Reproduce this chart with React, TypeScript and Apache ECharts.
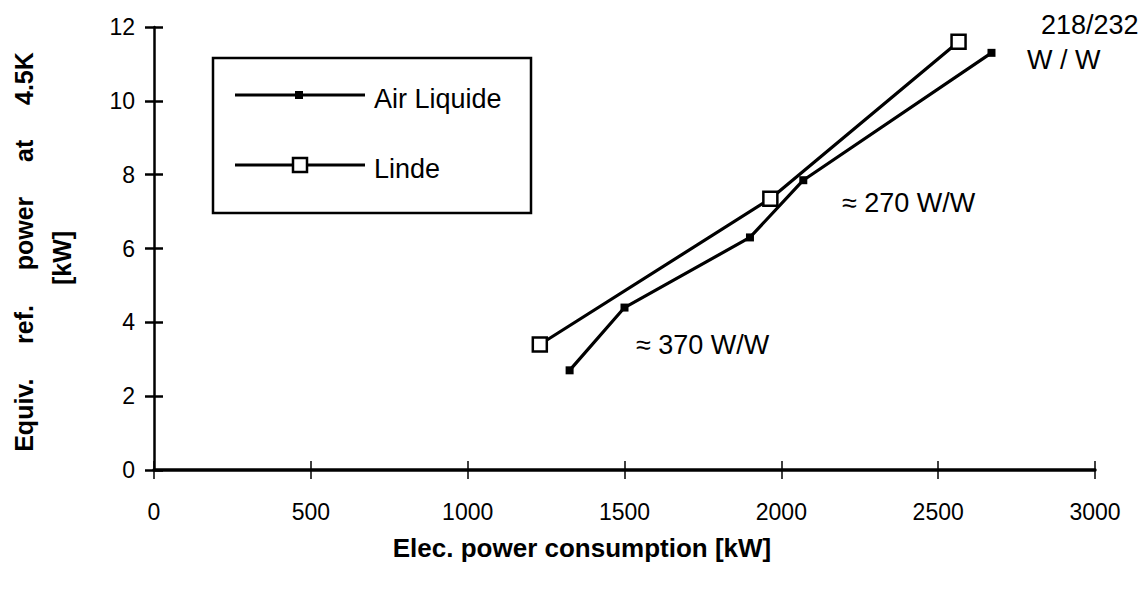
import React, { useEffect, useRef } from "react";
import * as echarts from "echarts";

const xTicks = [0, 500, 1000, 1500, 2000, 2500, 3000];
const yTicks = [0, 2, 4, 6, 8, 10, 12];
const seriesNames = ["Air Liquide", "Linde"];
const airLiquideX = [1325, 1500, 1900, 2070, 2670];
const airLiquideY = [2.7, 4.4, 6.3, 7.85, 11.3];
const lindeX = [1230, 1965, 2565];
const lindeY = [3.4, 7.35, 11.6];
const annotationTexts = ["≈ 370 W/W", "≈ 270 W/W", "218/232", "W / W"];
const xTitle = "Elec. power consumption [kW]";
const yTitleLines = ["Equiv.     ref.     power     at     4.5K", "[kW]"];

const FONT = "'Liberation Sans', Arial, Helvetica, sans-serif";

function txt(text: string, x: number, y: number, size: number, opts: any = {}) {
  return {
    type: "text",
    x,
    y,
    rotation: opts.rotation || 0,
    silent: true,
    style: {
      text,
      fill: "#000",
      fontSize: size,
      fontWeight: opts.bold ? "bold" : "normal",
      fontFamily: FONT,
      textAlign: opts.align || "left",
      textVerticalAlign: "middle",
      align: opts.align || "left",
      verticalAlign: "middle",
    },
  };
}

export default function App() {
  const ref = useRef<HTMLDivElement>(null);
  useEffect(() => {
    if (!ref.current) return;
    const chart = echarts.init(ref.current, null, { renderer: "svg" });
    const xMin = xTicks[0];
    const xMax = xTicks[xTicks.length - 1];
    const xInt = xTicks[1] - xTicks[0];
    const yMin = yTicks[0];
    const yMax = yTicks[yTicks.length - 1];
    const yInt = yTicks[1] - yTicks[0];
    const tickStyle = { color: "#000", width: 1.5 };
    const option: any = {
      animation: false,
      backgroundColor: "#fff",
      grid: { left: 154, right: 52, top: 27, bottom: 120, containLabel: false },
      xAxis: [
        {
          type: "value",
          position: "bottom",
          min: xMin,
          max: xMax,
          interval: xInt,
          axisLine: { show: true, onZero: false, lineStyle: { color: "#000", width: 3.5 } },
          axisTick: { show: true, length: 9, lineStyle: tickStyle },
          axisLabel: {
            margin: 30,
            color: "#000",
            fontSize: 23,
            fontFamily: FONT,
            formatter: (v: number) => String(v),
          },
          splitLine: { show: false },
        },
        {
          type: "value",
          position: "bottom",
          min: xMin,
          max: xMax,
          interval: xInt,
          axisLine: { show: false, onZero: false },
          axisTick: { show: true, inside: true, length: 9, lineStyle: tickStyle },
          axisLabel: { show: false },
          splitLine: { show: false },
        },
      ],
      yAxis: [
        {
          type: "value",
          position: "left",
          min: yMin,
          max: yMax,
          interval: yInt,
          axisLine: { show: true, onZero: false, lineStyle: { color: "#000", width: 2.5 } },
          axisTick: { show: true, length: 9, lineStyle: { color: "#000", width: 2.5 } },
          axisLabel: {
            margin: 19,
            color: "#000",
            fontSize: 23,
            fontFamily: FONT,
            formatter: (v: number) => String(v),
          },
          splitLine: { show: false },
        },
        {
          type: "value",
          position: "left",
          min: yMin,
          max: yMax,
          interval: yInt,
          axisLine: { show: false, onZero: false },
          axisTick: { show: true, inside: true, length: 9, lineStyle: { color: "#000", width: 2.5 } },
          axisLabel: { show: false },
          splitLine: { show: false },
        },
      ],
      series: [
        {
          name: seriesNames[0],
          type: "line",
          xAxisIndex: 0,
          yAxisIndex: 0,
          data: airLiquideX.map((x, i) => [x, airLiquideY[i]]),
          symbol: "rect",
          symbolSize: 8,
          itemStyle: { color: "#000" },
          lineStyle: { color: "#000", width: 3.2 },
          z: 3,
        },
        {
          name: seriesNames[1],
          type: "line",
          xAxisIndex: 0,
          yAxisIndex: 0,
          data: lindeX.map((x, i) => [x, lindeY[i]]),
          symbol: "rect",
          symbolSize: 14,
          itemStyle: { color: "#fff", borderColor: "#000", borderWidth: 2.5 },
          lineStyle: { color: "#000", width: 3.2 },
          z: 4,
        },
      ],
      graphic: [
        {
          type: "rect",
          silent: true,
          shape: { x: 213, y: 58, width: 318, height: 155 },
          style: { fill: "#fff", stroke: "#000", lineWidth: 2.5 },
          z: 10,
        },
        {
          type: "line",
          silent: true,
          shape: { x1: 235, y1: 95, x2: 365, y2: 95 },
          style: { stroke: "#000", lineWidth: 3 },
          z: 11,
        },
        {
          type: "rect",
          silent: true,
          shape: { x: 295, y: 91, width: 8, height: 8 },
          style: { fill: "#000" },
          z: 12,
        },
        {
          type: "line",
          silent: true,
          shape: { x1: 235, y1: 165, x2: 365, y2: 165 },
          style: { stroke: "#000", lineWidth: 3 },
          z: 11,
        },
        {
          type: "rect",
          silent: true,
          shape: { x: 293, y: 158, width: 14, height: 14 },
          style: { fill: "#fff", stroke: "#000", lineWidth: 2.5 },
          z: 12,
        },
        { ...txt(seriesNames[0], 374, 99, 27), z: 12 },
        { ...txt(seriesNames[1], 374, 169, 27), z: 12 },
        txt(annotationTexts[0], 636, 345, 27),
        txt(annotationTexts[1], 842, 203, 27),
        txt(annotationTexts[2], 1041, 25, 27),
        txt(annotationTexts[3], 1027, 60, 27),
        txt(xTitle, 582, 548, 26, { bold: true, align: "center" }),
        txt(yTitleLines[0], 24, 252, 25, { bold: true, align: "center", rotation: Math.PI / 2 }),
        txt(yTitleLines[1], 62, 258, 25, { bold: true, align: "center", rotation: Math.PI / 2 }),
      ],
    };
    chart.setOption(option);
    return () => chart.dispose();
  }, []);
  return (
    <div
      ref={ref}
      style={{ position: "fixed", left: 0, top: 0, width: 1147, height: 590, background: "#fff" }}
    />
  );
}
